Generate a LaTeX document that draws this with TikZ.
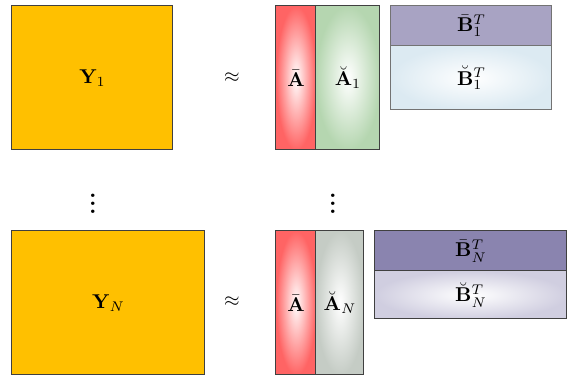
\documentclass[tikz,border=0pt]{standalone}
\usepackage{amsmath}
\begin{document}
\begin{tikzpicture}[x=0.5pt,y=-0.5pt,
  mat/.style={draw=black!75, line width=0.5pt, rectangle, anchor=north west, outer sep=0pt, inner sep=0pt, font=\normalsize},
  yfill/.style={mat, fill={rgb,255:red,255;green,192;blue,0}},
  sym/.style={inner sep=0pt, font=\normalsize},
  dotsym/.style={inner sep=0pt, font=\large\bfseries}]
\definecolor{ared}{RGB}{255,100,100}
\definecolor{agreen}{RGB}{181,214,176}
\definecolor{agray}{RGB}{197,204,197}
\definecolor{bpurpA}{RGB}{168,163,195}
\definecolor{bpurpN}{RGB}{138,132,175}
\definecolor{bblue}{RGB}{220,234,242}
\definecolor{blav}{RGB}{208,206,224}
\useasboundingbox (0,0) rectangle (575,379);
% top row
\node[yfill, minimum width=80.5pt, minimum height=72pt] (y1) at (12,6) {$\mathbf{Y}_1$};
\node[sym] (ap1) at (232,78) {$\approx$};
\node[mat, inner color=white, outer color=ared, minimum width=20pt, minimum height=72pt] (abar1) at (276,6) {$\bar{\mathbf{A}}$};
\node[mat, inner color=white, outer color=agreen, minimum width=32pt, minimum height=72pt] (abr1) at (316,6) {$\breve{\mathbf{A}}_1$};
\node[mat, draw=black!55, fill=bpurpA, minimum width=80.5pt, minimum height=20pt] (bbar1) at (391,6) {$\bar{\mathbf{B}}_1^T$};
\node[mat, draw=black!55, inner color=white, outer color=bblue, minimum width=80.5pt, minimum height=32pt] (bbr1) at (391,46) {$\breve{\mathbf{B}}_1^T$};
% dots
\node[dotsym] (d1) at (93,198) {\vdots};
\node[dotsym] (d2) at (333,198) {\vdots};
% bottom row
\node[yfill, minimum width=96.5pt, minimum height=72pt] (yn) at (12,231) {$\mathbf{Y}_N$};
\node[sym] (apn) at (232,302) {$\approx$};
\node[mat, inner color=white, outer color=ared, minimum width=20pt, minimum height=72pt] (abarn) at (276,231) {$\bar{\mathbf{A}}$};
\node[mat, inner color=white, outer color=agray, minimum width=24pt, minimum height=72pt] (abrn) at (316,231) {$\breve{\mathbf{A}}_N$};
\node[mat, fill=bpurpN, minimum width=96pt, minimum height=20pt] (bbarn) at (375,231) {$\bar{\mathbf{B}}_N^T$};
\node[mat, inner color=white, outer color=blav, minimum width=96pt, minimum height=24pt] (bbrn) at (375,271) {$\breve{\mathbf{B}}_N^T$};
\end{tikzpicture}
\end{document}
